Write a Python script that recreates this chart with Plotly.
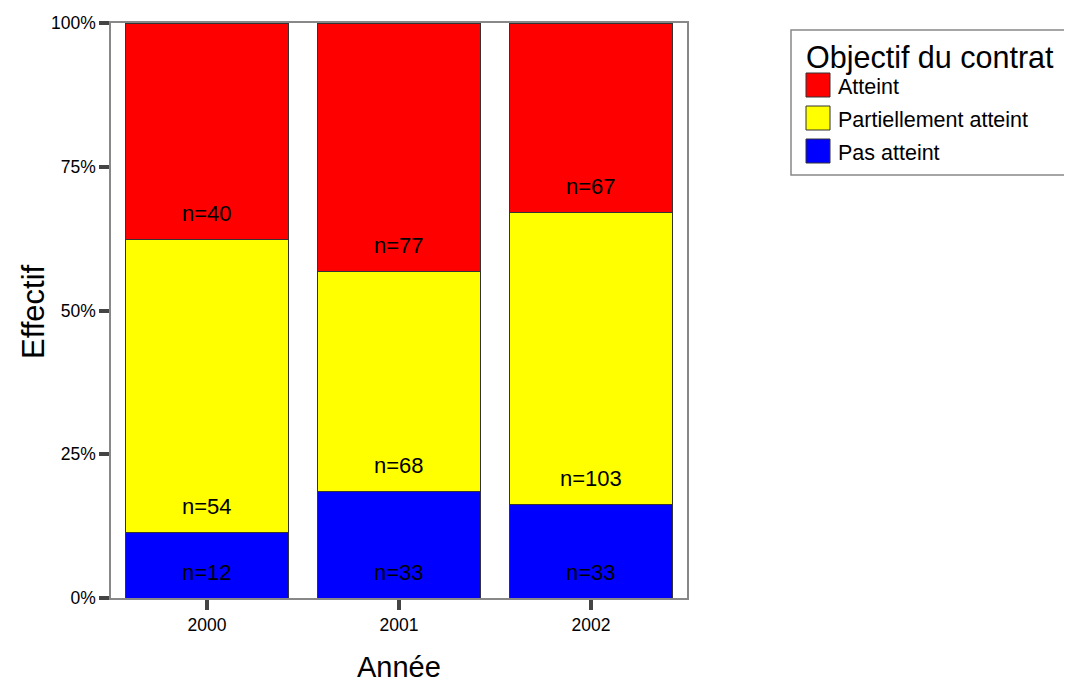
import plotly.graph_objects as go

years = ["2000", "2001", "2002"]
categories = ["Pas atteint", "Partiellement atteint", "Atteint"]
pas_atteint = [12, 33, 33]
partiellement = [54, 68, 103]
atteint = [40, 77, 67]
colors = ["#0000FF", "#FFFF00", "#FF0000"]
y_ticks = [0, 25, 50, 75, 100]
y_tick_labels = ["0%", "25%", "50%", "75%", "100%"]

series = [pas_atteint, partiellement, atteint]
totals = [sum(s[i] for s in series) for i in range(len(years))]
pct_series = [[v / t * 100 for v, t in zip(s, totals)] for s in series]

W, H = 1072, 685
OFF = 8  # page body margin
PL, PR, PT, PB = 111, 687, 23, 598  # plot area in page pixels
PW, PH = PR - PL, PB - PT
L, T = PL - OFF, PT - OFF
R, B = W - (PR - OFF), H - (PB - OFF)
FONT = "Liberation Sans"

fig = go.Figure()
for name, vals, col in zip(categories, pct_series, colors):
    fig.add_trace(go.Bar(
        x=years, y=vals, name=name,
        marker=dict(color=col, line=dict(color="#333333", width=1)),
        showlegend=False,
    ))

# n= labels just above the base of each segment
annotations = []
for i, yr in enumerate(years):
    base = 0.0
    for vals, pcts in zip(series, pct_series):
        annotations.append(dict(
            x=i, y=base, xref="x", yref="y", text=f"n={vals[i]}",
            showarrow=False, yanchor="middle", yshift=26,
            font=dict(size=22, color="black", family=FONT),
        ))
        base += pcts[i]

def px(x):
    return (x - PL) / PW

def py(y):
    return (PB - y) / PH

# axis titles
annotations.append(dict(x=px(33), y=py(312), xref="paper", yref="paper",
                        text="Effectif", showarrow=False, textangle=-90,
                        xanchor="center", yanchor="middle",
                        font=dict(size=31, color="black", family=FONT)))
annotations.append(dict(x=px(399), y=py(667), xref="paper", yref="paper",
                        text="Année", showarrow=False,
                        xanchor="center", yanchor="middle", borderpad=0,
                        font=dict(size=29, color="black", family=FONT)))

shapes = [dict(type="rect", xref="paper", yref="paper",
               x0=px(791), x1=px(1090), y0=py(175), y1=py(30),
               line=dict(color="#888888", width=1.5))]
annotations.append(dict(x=px(804), y=py(57), xref="paper", yref="paper",
                        text="Objectif du contrat", showarrow=False,
                        xanchor="left", yanchor="middle",
                        font=dict(size=30.5, color="black", family=FONT)))
leg_items = [("Atteint", "#FF0000", 85), ("Partiellement atteint", "#FFFF00", 118),
             ("Pas atteint", "#0000FF", 151)]
for lab, col, cy in leg_items:
    shapes.append(dict(type="rect", xref="paper", yref="paper",
                       x0=px(806), x1=px(830), y0=py(cy + 12), y1=py(cy - 12),
                       line=dict(color="#333333", width=1), fillcolor=col))
    annotations.append(dict(x=px(836), y=py(cy + 2), xref="paper", yref="paper",
                            text=lab, showarrow=False, xanchor="left", yanchor="middle",
                            font=dict(size=21.5, color="black", family=FONT)))

fig.update_layout(
    width=W, height=H,
    margin=dict(l=L, r=R, t=T, b=B, autoexpand=False),
    barmode="stack", bargap=0.156,
    plot_bgcolor="white", paper_bgcolor="white",
    font=dict(family=FONT, color="black"),
    showlegend=False,
    annotations=annotations, shapes=shapes,
)
fig.update_xaxes(type="category", showline=True, linecolor="#888888", linewidth=1.5,
                 mirror=True, ticks="outside", ticklen=10, tickwidth=4, tickcolor="#444444",
                 tickfont=dict(size=17.5), showgrid=False)
fig.update_yaxes(range=[0, 100], tickmode="array", tickvals=y_ticks, ticktext=y_tick_labels,
                 showline=True, linecolor="#888888", linewidth=1.5, mirror=True,
                 ticks="outside", ticklen=10, tickwidth=4, tickcolor="#444444",
                 tickfont=dict(size=17.5), showgrid=False, zeroline=False)

fig.write_html("out.html")
